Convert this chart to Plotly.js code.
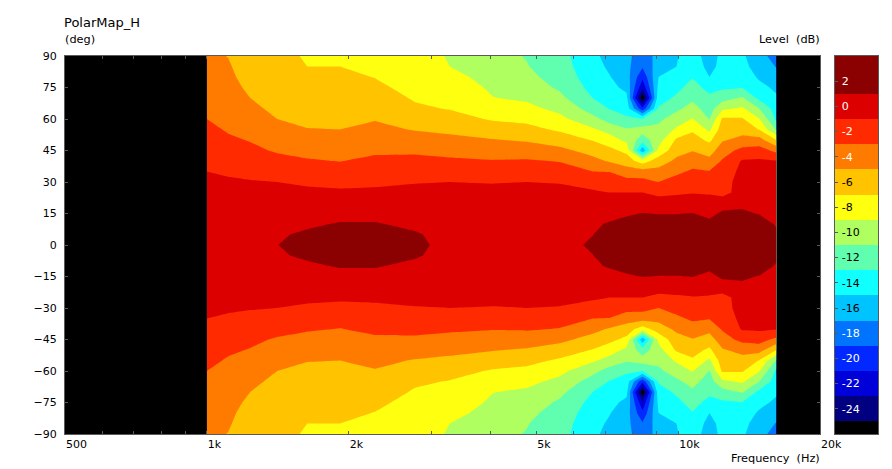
<!DOCTYPE html>
<html><head><meta charset="utf-8">
<script src="https://cdn.plot.ly/plotly-3.0.1.min.js"></script>
<style>html,body{margin:0;padding:0;background:#fff}#c{width:892px;height:469px}</style>
</head><body><div id="c"></div>
<script>
const freqs=[1000,1110,1236,1410,1632,1917,2274,2764,3278,4043,4773,5607,6586,7154,7775,8404,9086,9922,10726,11653,12416,13690,14870,16157];
const anglesUpper=[0,5,10,15,20,25,30,35,40,45,50,55,60,65,70,75,80,85,90];
const levelColumns=[
[0.3,0.2,0.1,0,-0.2,-0.4,-0.7,-1.0,-1.3,-1.7,-2.1,-2.5,-3.0,-3.3,-3.6,-3.9,-4.2,-4.4,-4.6],
[0.4,0.3,0.2,0,-0.2,-0.5,-0.8,-1.2,-1.6,-2.2,-2.7,-3.2,-3.5,-3.7,-3.9,-4.3,-4.55,-4.8,-5.05],
[0.5,0.4,0.3,0.1,-0.2,-0.5,-0.9,-1.4,-2,-2.6,-3.1,-3.6,-4,-4.6,-5,-5.4,-5.8,-6,-6.2],
[0.97,0.85,0.7,0.3,-0.1,-0.5,-1.0,-1.7,-2.4,-3.2,-3.9,-4.4,-5,-5.4,-5.7,-5.9,-6.1,-6.4,-6.7],
[1.7,1.2,0.8,0.3,-0.1,-0.6,-1.3,-2.1,-2.8,-3.6,-4.2,-4.95,-5.3,-5.6,-5.9,-6.2,-6.6,-7,-7.1],
[2.0,1.6,1.1,0.6,0,-0.7,-1.5,-2.3,-3.05,-3.8,-4.4,-5,-5.3,-5.6,-5.9,-6.2,-6.6,-7,-7.4],
[2,1.6,1.1,0.6,0,-0.7,-1.3,-2,-2.6,-3.3,-3.9,-4.6,-5.1,-5.6,-6,-6.6,-7.05,-7.6,-8],
[1.3,1.15,0.7,0.3,-0.1,-0.5,-1.1,-1.8,-2.5,-3.3,-4.2,-5.1,-5.9,-6.7,-7.2,-7.6,-7.9,-8.2,-8.5],
[0.6,0.5,0.4,0.2,0,-0.4,-1,-1.9,-2.7,-3.6,-4.5,-5.4,-6.3,-7.1,-7.5,-7.9,-8.5,-9,-9.1],
[0.6,0.5,0.4,0.2,-0.1,-0.5,-1.1,-2,-2.9,-3.9,-4.9,-6,-7.2,-8,-8.95,-9.3,-9.6,-10,-10.4],
[0.7,0.55,0.4,0.2,-0.1,-0.5,-1,-1.9,-2.8,-4,-5.2,-6.4,-7.5,-8.5,-9.3,-9.9,-10.5,-10.9,-11.1],
[0.5,0.45,0.4,0.2,-0.1,-0.5,-1.1,-2.1,-3.1,-4.5,-5.9,-7.3,-8.5,-9.5,-10.5,-11.3,-11.8,-12.1,-12.3],
[1.2,0.97,0.75,0.4,0,-0.7,-1.8,-3,-4.4,-5.7,-7.1,-8.7,-10.4,-11.9,-13,-13.6,-14,-14.3,-14.5],
[1.9,1.6,1.15,0.5,0,-1,-2,-3.05,-5.2,-6.5,-8,-9.8,-11.8,-13.1,-13.8,-14.4,-14.9,-15.3,-15.7],
[2.5,2,1.5,0.8,0,-1,-2.3,-4.1,-6,-7.5,-9.5,-10.8,-12.6,-14,-14.5,-15.5,-16.1,-16.4,-16.5],
[2.7,2.2,1.7,1.05,0,-1,-2.3,-4.2,-8,-16.5,-12,-10.2,-13,-20.5,-26.5,-22.5,-20.5,-18.8,-18],
[2.8,2.2,1.6,0.95,-0.3,-1.4,-3,-4.4,-6,-8.5,-9.8,-10.5,-11.4,-12.8,-13.8,-14.5,-15,-15.9,-16.4],
[2.9,2.3,1.7,0.95,0,-1.3,-2.3,-3.4,-4.6,-5.7,-6.7,-8.7,-10.1,-11.4,-12.7,-13.5,-14.3,-15,-15.1],
[2.9,2.3,1.7,1.05,0,-1.1,-1.9,-2.7,-3.8,-5.1,-6.2,-7.3,-8.9,-10.3,-11.4,-12.3,-13.1,-14,-14.3],
[2.7,2,1.4,0.6,-0.2,-1.2,-2.1,-2.9,-4.4,-5.9,-7.4,-9.4,-11.1,-11.9,-12.6,-13.6,-15,-15.5,-15.7],
[3,2.5,2,1.25,0.3,-1.8,-2,-2.3,-2.8,-3.9,-5.2,-5.9,-6.7,-9.4,-11.8,-13.3,-14,-14.5,-14.6],
[3,2.5,2,1.3,0.6,0,0,-0.4,-0.8,-2.4,-4.4,-5.7,-6.8,-8.7,-10.8,-13.1,-13.8,-14.4,-14.7],
[3,2.5,2,0.9,0.6,0.4,0.2,-0.1,-0.7,-2.2,-4.2,-7.1,-8.9,-11,-13.5,-14.4,-15.3,-15.9,-16.3],
[2.2,1.4,0.8,0.7,0.5,0.3,0,-0.4,-0.9,-3.5,-7,-11.2,-13.4,-14,-14.7,-15.4,-16.2,-17.1,-17.8]
];
const keyEdges=[-26,-25,-23,-21,-19,-17,-15,-13,-11,-9,-7,-5,-3,-1,1,4];
const keyValues=[-25.5,-24,-22,-20,-18,-16,-14,-12,-10,-8,-6,-4,-2,0,2];
const bandColors=['#000000','#000080','#0000d8','#0028ff','#0074ff','#00c4ff','#10ffff','#60ffb0','#b0ff60','#ffff10','#ffc300','#ff7b00','#ff2a00','#dd0000','#8b0000'];
const keyLabels=['2','0','-2','-4','-6','-8','-10','-12','-14','-16','-18','-20','-22','-24'];
const keyLabelValues=[2,0,-2,-4,-6,-8,-10,-12,-14,-16,-18,-20,-22,-24];
const keyLabelColors=['#fff','#fff','#fff','#fff','#000','#000','#000','#000','#000','#000','#fff','#fff','#fff','#fff'];
const xTicks=[500,600,700,800,900,1000,2000,3000,4000,5000,6000,7000,8000,9000,10000,20000];
const xTickText=['500','','','','','1k','2k','','','5k','','','','','10k','20k'];
const yTicks=[-90,-75,-60,-45,-30,-15,0,15,30,45,60,75,90];

const angles=anglesUpper.slice().reverse().concat(anglesUpper.slice(1).map(a=>-a));
const rowOf=a=>levelColumns.map(col=>col[anglesUpper.indexOf(Math.abs(a))]);
const z=angles.map(rowOf);

const keyScale=[];
keyValues.forEach((v,i)=>{
  keyScale.push([(keyEdges[i]+26)/30,bandColors[i]]);
  keyScale.push([(keyEdges[i+1]+26)/30,bandColors[i]]);
});
const contourScale=[];
bandColors.forEach((c,i)=>{
  contourScale.push([i/15,c]);
  contourScale.push([(i+1)/15,c]);
});
const FONT='"DejaVu Sans",sans-serif', GR='#5a5a5a';
const data=[
 {type:'contour',x:freqs,y:angles,z:z,xaxis:'x',yaxis:'y',colorscale:contourScale,showscale:false,
  autocontour:false,contours:{start:-25,end:1,size:2,coloring:'fill',showlines:false},
  line:{width:0,smoothing:0},hoverinfo:'skip'},
 {type:'heatmap',x:[0,1],y:keyEdges,z:keyValues.map(v=>[v]),xaxis:'x2',yaxis:'y2',colorscale:keyScale,
  zmin:-26,zmax:4,showscale:false,hoverinfo:'skip'}
];
const layout={
 width:892,height:469,paper_bgcolor:'#fff',plot_bgcolor:'#000',showlegend:false,
 margin:{l:65,r:14,t:56,b:35,pad:0},
 font:{family:FONT,size:11,color:'#000'},
 title:{text:'PolarMap_H',font:{family:FONT,size:13,color:'#000'},x:64/892,xanchor:'left',y:1-22/469,yanchor:'middle'},
 xaxis:{type:'log',domain:[0,755/813],range:[Math.log10(500),Math.log10(20000)],tickmode:'array',tickvals:xTicks,ticktext:xTickText,
   ticks:'inside',ticklen:3,tickcolor:GR,showline:true,linecolor:GR,linewidth:1,mirror:'allticks',showgrid:false,zeroline:false,
   ticklabelposition:'outside right',ticklabeloverflow:'allow',tickfont:{size:11}},
 yaxis:{range:[-90,90],tickmode:'array',tickvals:yTicks,ticks:'inside',ticklen:3,tickcolor:GR,showline:true,linecolor:GR,linewidth:1,mirror:'allticks',
   showgrid:false,zeroline:false,tickfont:{size:11},ticklabelstandoff:5},
 xaxis2:{domain:[770/813,1],range:[0,1],anchor:'y2',showticklabels:false,ticks:'',showline:true,linecolor:GR,mirror:true,showgrid:false,zeroline:false},
 yaxis2:{domain:[0,1],range:[-26,4],anchor:'x2',tickmode:'array',tickvals:keyLabelValues,
   ticktext:keyLabels.map((t,i)=>'<span style="color:'+keyLabelColors[i]+'">'+t+'</span>'),
   ticks:'inside',ticklen:3,tickcolor:GR,ticklabelposition:'inside',ticklabelstandoff:3,showline:true,linecolor:GR,mirror:true,showgrid:false,zeroline:false,tickfont:{size:11}},
 annotations:[
  {text:'(deg)',xref:'paper',yref:'paper',x:0,xshift:-2,y:1+17/378,xanchor:'left',yanchor:'middle',showarrow:false,font:{size:11.3}},
  {text:'Level  (dB)',xref:'paper',yref:'paper',x:755/813,xshift:2,y:1+17/378,xanchor:'right',yanchor:'middle',showarrow:false,font:{size:11.3}},
  {text:'Frequency  (Hz)',xref:'paper',yref:'paper',x:755/813,xshift:2,y:-24/378,xanchor:'right',yanchor:'middle',showarrow:false,font:{size:11.3}}
 ]
};
Plotly.newPlot('c',data,layout,{displayModeBar:false,staticPlot:true});
</script></body></html>
